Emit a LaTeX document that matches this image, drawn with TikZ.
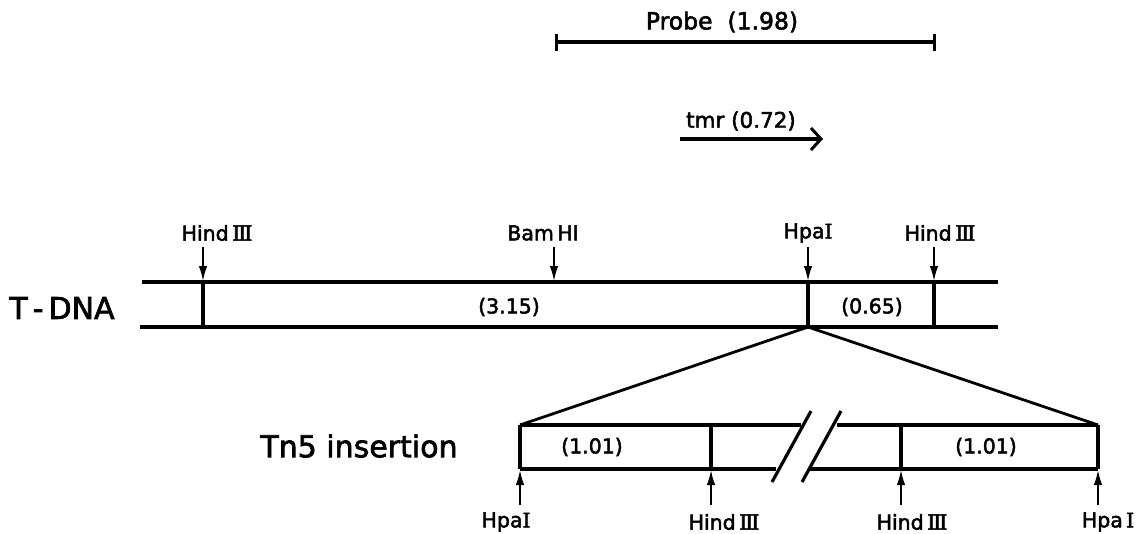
\documentclass[tikz,border=0pt]{standalone}
\usepackage{fontspec}
\setmainfont{DejaVu Sans}
\newfontfamily\lblfont{DejaVu Sans}[FakeBold=2.2]
\newfontfamily\romfont{DejaVu Serif}[FakeBold=2.5]
\newcommand\RomIII{{\romfont\fontsize{21}{22}\selectfont Ⅲ}}
\newcommand\RomI{{\romfont\fontsize{20}{22}\selectfont I}}
\usetikzlibrary{arrows.meta}
\begin{document}
\begin{tikzpicture}[x=1pt,y=-1pt,
  dna/.style={line width=3.8pt},
  rung/.style={line width=3.8pt},
  fan/.style={line width=2.8pt},
  cutarrow/.style={line width=2.6pt,-{Latex[length=16pt,width=8.5pt]}},
  site/.style={font=\lblfont\fontsize{20.5}{22}\selectfont, inner sep=0pt},
  frag/.style={font=\lblfont\fontsize{20.5}{22}\selectfont, inner sep=0pt},
  title/.style={font=\lblfont\fontsize{30}{32}\selectfont, inner sep=0pt}]
\useasboundingbox (0,0) rectangle (1137,533);

% Probe
\coordinate (p1) at (555,42);
\coordinate (p2) at (936,42);
\draw[line width=3.6pt,{Bar[width=17pt,line width=3.4pt]}-{Bar[width=17pt,line width=3.4pt]}] (p1) -- (p2);
\node[font=\lblfont\fontsize{23.5}{25}\selectfont, inner sep=0pt] (probe) at (722,22) {Probe\ \ (1.98)};

% tmr
\coordinate (t1) at (680,139);
\coordinate (t2) at (823,139);
\draw[line width=3.4pt,-{Straight Barb[length=10pt,width=22pt,line width=3pt]}] (t1) -- (t2);
\node[font=\lblfont\fontsize{21.5}{23}\selectfont, inner sep=0pt] (tmr) at (741,121) {tmr (0.72)};

% T-DNA
\coordinate (tl) at (142,282);
\coordinate (tr) at (998,282);
\coordinate (bl) at (140,327);
\coordinate (br) at (998,327);
\draw[dna] (tl) -- (tr);
\draw[dna] (bl) -- (br);
\node[title] (tdna) at (62,308) {T\,-\,DNA};

\coordinate (h1t) at (203,282); \coordinate (h1b) at (203,327);
\coordinate (hpt) at (808,282); \coordinate (hpb) at (808,327);
\coordinate (h2t) at (934,282); \coordinate (h2b) at (934,327);
\coordinate (bamt) at (554,282);
\draw[rung] (h1t) -- (h1b);
\draw[rung] (hpt) -- (hpb);
\draw[rung] (h2t) -- (h2b);

\coordinate (a1) at (203,247);
\coordinate (a2) at (554,247);
\coordinate (a3) at (808,247);
\coordinate (a4) at (934,247);
\draw[cutarrow] (a1) -- (h1t);
\draw[cutarrow] (a2) -- (bamt);
\draw[cutarrow] (a3) -- (hpt);
\draw[cutarrow] (a4) -- (h2t);

\node[site] (lh1) at (217,233) {Hind\,\RomIII};
\node[site] (lbam) at (543,233) {Bam\,HI};
\node[site] (lhpa) at (808,233) {Hpa\RomI};
\node[site] (lh2) at (940,233) {Hind\,\RomIII};

\node[frag] (f315) at (509,307) {(3.15)};
\node[frag] (f065) at (872,307) {(0.65)};

% Tn5 insertion
\node[title] (tn5) at (359,446) {Tn5 insertion};

\coordinate (ql) at (520,425);
\coordinate (qr) at (1098,425);
\draw[fan] (hpb) -- (ql);
\draw[fan] (hpb) -- (qr);

\coordinate (tla) at (801,425);
\coordinate (trb) at (837,425);
\coordinate (bll) at (520,469);
\coordinate (bla) at (776,469);
\coordinate (brb) at (809,469);
\coordinate (brr) at (1098,469);
\draw[dna] (ql) -- (tla);
\draw[dna] (trb) -- (qr);
\draw[dna] (bll) -- (bla);
\draw[dna] (brb) -- (brr);

\coordinate (s1a) at (772,482); \coordinate (s1b) at (811,411);
\coordinate (s2a) at (802,482); \coordinate (s2b) at (841,411);
\draw[line width=3.2pt] (s1a) -- (s1b);
\draw[line width=3.2pt] (s2a) -- (s2b);

\coordinate (v2t) at (711,425); \coordinate (v2b) at (711,469);
\coordinate (v3t) at (901,425); \coordinate (v3b) at (901,469);
\draw[rung] (ql) -- (bll);
\draw[rung] (v2t) -- (v2b);
\draw[rung] (v3t) -- (v3b);
\draw[rung] (qr) -- (brr);

\coordinate (u1) at (520,505);
\coordinate (u2) at (711,505);
\coordinate (u3) at (901,505);
\coordinate (u4) at (1098,505);
\draw[cutarrow] (u1) -- (bll);
\draw[cutarrow] (u2) -- (v2b);
\draw[cutarrow] (u3) -- (v3b);
\draw[cutarrow] (u4) -- (brr);

\node[frag] (f101a) at (592,447) {(1.01)};
\node[frag] (f101b) at (986,447) {(1.01)};

\node[site] (lb1) at (506,522) {Hpa\RomI};
\node[site] (lb2) at (724,522) {Hind\,\RomIII};
\node[site] (lb3) at (912,522) {Hind\,\RomIII};
\node[site] (lb4) at (1108,522) {Hpa\,\RomI};
\end{tikzpicture}
\end{document}
